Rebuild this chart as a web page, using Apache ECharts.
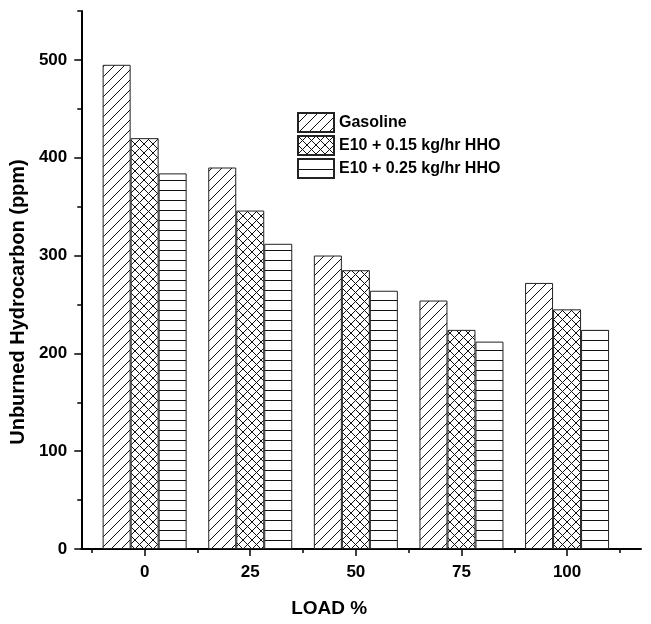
<!DOCTYPE html>
<html>
<head>
<meta charset="utf-8">
<script src="https://cdn.jsdelivr.net/npm/echarts@6/dist/echarts.min.js"></script>
<style>
  html, body { margin: 0; padding: 0; background: #fff; }
  #main { width: 651px; height: 624px; }
</style>
</head>
<body>
<div id="main"></div>
<script>
// data
var loads = [0, 25, 50, 75, 100];
var seriesNames = ['Gasoline', 'E10 + 0.15 kg/hr HHO', 'E10 + 0.25 kg/hr HHO'];
var gasoline = [495, 390, 300, 254, 272];
var e10_015 = [420, 346, 285, 224, 245];
var e10_025 = [384, 312, 264, 212, 224];
var yLabels = [0, 100, 200, 300, 400, 500];
var yMinor = [50, 150, 250, 350, 450, 550];
var xMinor = [-12.5, 12.5, 37.5, 62.5, 87.5, 112.5];

var font = '"Liberation Sans", Arial, sans-serif';

// hatch fills drawn on small canvases
function hatch(kind) {
  var s = kind == 'cross' ? 9 : 10;
  var c = document.createElement('canvas');
  c.width = s; c.height = s;
  var ctx = c.getContext('2d');
  ctx.fillStyle = '#fff';
  ctx.fillRect(0, 0, s, s);
  ctx.strokeStyle = '#111';
  ctx.lineWidth = 1;
  ctx.beginPath();
  if (kind == 'diag' || kind == 'cross') {
    ctx.moveTo(-1, s + 1); ctx.lineTo(s + 1, -1);
    ctx.moveTo(-s / 2 - 1, s / 2 + 1); ctx.lineTo(s / 2 + 1, -s / 2 - 1);
    ctx.moveTo(s / 2 - 1, s * 1.5 + 1); ctx.lineTo(s * 1.5 + 1, s / 2 - 1);
  }
  if (kind == 'cross') {
    ctx.moveTo(-1, -1); ctx.lineTo(s + 1, s + 1);
    ctx.moveTo(-s / 2 - 1, s / 2 - 1); ctx.lineTo(s / 2 + 1, s * 1.5 + 1);
    ctx.moveTo(s / 2 - 1, -s / 2 - 1); ctx.lineTo(s * 1.5 + 1, s / 2 + 1);
  }
  if (kind == 'horiz') {
    ctx.moveTo(0, 0.5); ctx.lineTo(s, 0.5);
  }
  ctx.stroke();
  return { image: c, repeat: 'repeat' };
}

function pairs(vals) {
  return loads.map(function (x, i) { return [x, vals[i]]; });
}

function barSeries(name, vals, kind) {
  return {
    name: name,
    type: 'bar',
    data: pairs(vals),
    barWidth: 28,
    barGap: '0%',
    itemStyle: {
      color: hatch(kind),
      borderColor: '#222',
      borderWidth: 1
    },
    emphasis: { disabled: true }
  };
}

var myChart = echarts.init(document.getElementById('main'));

var option = {
  backgroundColor: '#fff',
  animation: false,
  grid: { left: 80, right: 10, top: 11, bottom: 75 },
  legend: {
    orient: 'vertical',
    left: 297,
    top: 112,
    padding: 0,
    itemWidth: 36,
    itemHeight: 19,
    itemGap: 2,
    icon: 'rect',
    data: seriesNames,
    textStyle: { fontFamily: font, fontWeight: 'bold', fontSize: 16, lineHeight: 19, color: '#000' }
  },
  xAxis: [{
    type: 'value',
    min: -15,
    max: 117.5,
    name: 'LOAD %',
    nameLocation: 'middle',
    nameGap: 50,
    nameTextStyle: { fontFamily: font, fontWeight: 'bold', fontSize: 19, color: '#000', padding: [0, 64, 0, 0] },
    axisLine: { onZero: false, lineStyle: { color: '#000', width: 2 } },
    axisTick: { customValues: loads, length: 7, lineStyle: { color: '#000', width: 1.5 } },
    axisLabel: { customValues: loads, margin: 15, fontFamily: font, fontWeight: 'bold', fontSize: 17, color: '#000' },
    splitLine: { show: false }
  }, {
    type: 'value',
    min: -15,
    max: 117.5,
    position: 'bottom',
    axisLine: { show: false, onZero: false },
    axisTick: { customValues: xMinor, length: 4, lineStyle: { color: '#000', width: 1.5 } },
    axisLabel: { show: false },
    splitLine: { show: false }
  }],
  yAxis: [{
    type: 'value',
    min: 0,
    max: 550,
    name: 'Unburned Hydrocarbon (ppm)',
    nameLocation: 'middle',
    nameGap: 40,
    nameTextStyle: { fontFamily: font, fontWeight: 'bold', fontSize: 20, color: '#000', padding: [0, 44, 0, 0] },
    axisLine: { show: true, onZero: false, lineStyle: { color: '#000', width: 2 } },
    axisTick: { show: true, customValues: yLabels, length: 7, lineStyle: { color: '#000', width: 1.5 } },
    axisLabel: { customValues: yLabels, margin: 14, fontFamily: font, fontWeight: 'bold', fontSize: 17, color: '#000' },
    splitLine: { show: false }
  }, {
    type: 'value',
    min: 0,
    max: 550,
    position: 'left',
    axisLine: { show: false, onZero: false },
    axisTick: { show: true, customValues: yMinor, length: 4, lineStyle: { color: '#000', width: 1.5 } },
    axisLabel: { show: false },
    splitLine: { show: false }
  }],
  series: [
    barSeries(seriesNames[0], gasoline, 'diag'),
    barSeries(seriesNames[1], e10_015, 'cross'),
    barSeries(seriesNames[2], e10_025, 'horiz')
  ]
};

myChart.setOption(option);
</script>
</body>
</html>
